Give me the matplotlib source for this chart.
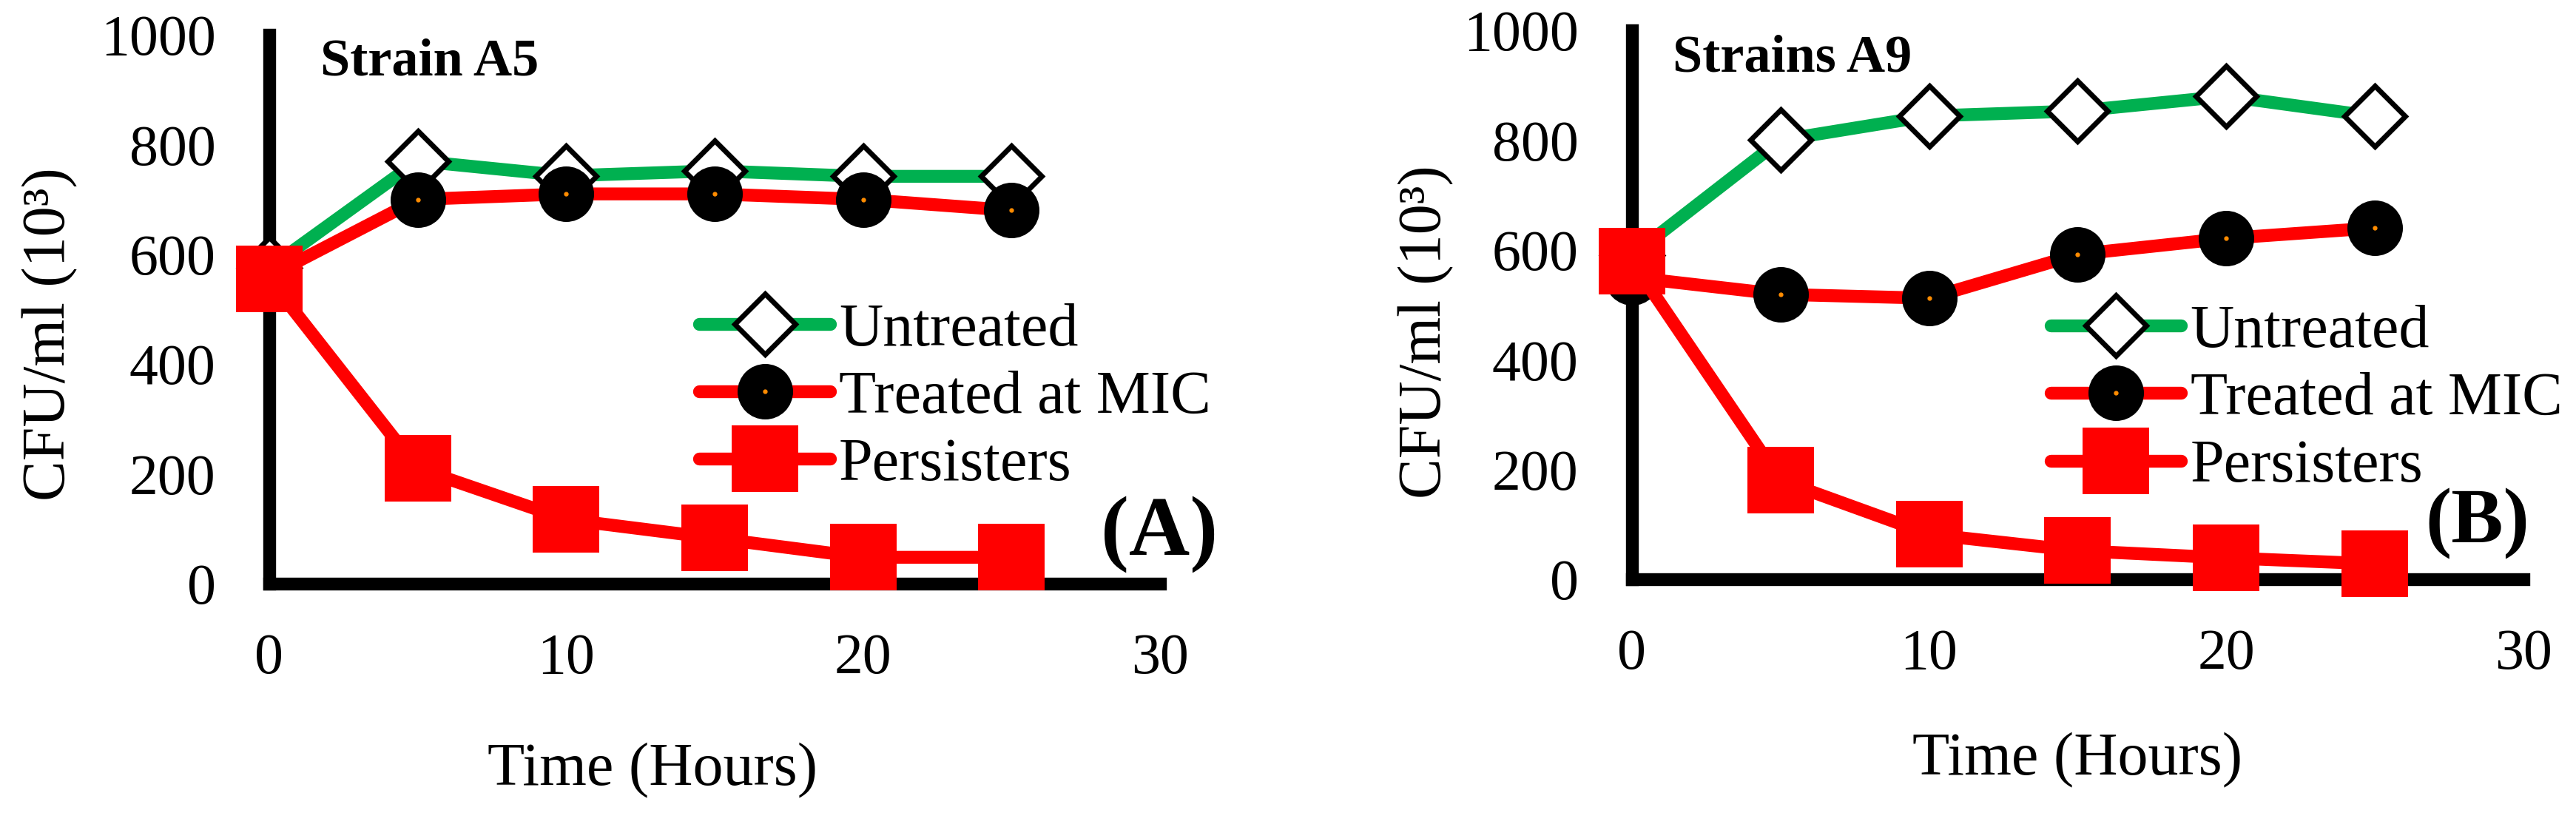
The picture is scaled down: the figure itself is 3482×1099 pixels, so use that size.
import matplotlib
matplotlib.use("Agg")
import matplotlib.pyplot as plt

plt.rcParams['font.family'] = ['Liberation Serif', 'DejaVu Serif']

# data (CFU/ml x 10^3)
hours = [0, 5, 10, 15, 20, 25]
a5_untreated = [575, 770, 743, 752, 742, 742]
a5_treated = [560, 700, 710, 710, 700, 680]
a5_persisters = [555, 210, 117, 83, 48, 48]
a9_untreated = [590, 800, 844, 853, 880, 843]
a9_treated = [550, 519, 512, 592, 621, 640]
a9_persisters = [579, 180, 82, 52, 39, 28]
series_labels = ["Untreated", "Treated at MIC", "Persisters"]
x_ticks = [0, 10, 20, 30]
y_ticks = [0, 200, 400, 600, 800, 1000]

green = "#00b050"
red = "#ff0000"
orange = "#ff8c00"

fig = plt.figure(figsize=(34.82, 10.99), dpi=100)


def panel(rect, untreated, treated, persisters, title, title_xy, tag, tag_xy, tag_size,
          leg_xy, ylab_xy, xlab_xy):
    ax = fig.add_axes(rect)
    l1, = ax.plot(hours, untreated, color=green, lw=12.5, marker='D', ms=42,
                  mfc='white', mec='black', mew=5, zorder=3, clip_on=False,
                  solid_capstyle='round', solid_joinstyle='round')
    l2, = ax.plot(hours, treated, color=red, lw=12.5, marker='o', ms=54,
                  mfc='black', mec='black', mew=0, zorder=4, clip_on=False,
                  solid_capstyle='round', solid_joinstyle='round')
    d2, = ax.plot(hours, treated, ls='none', marker='o', ms=3.5, color=orange,
                  zorder=4.5, clip_on=False)
    l3, = ax.plot(hours, persisters, color=red, lw=12.5, marker='s', ms=65,
                  mfc=red, mew=0, zorder=5, clip_on=False,
                  solid_capstyle='round', solid_joinstyle='round')

    ax.set_xlim(0, 30)
    ax.set_ylim(0, 1000)
    ax.set_xticks(x_ticks)
    ax.set_yticks(y_ticks)
    for s in ['top', 'right']:
        ax.spines[s].set_visible(False)
    for s in ['left', 'bottom']:
        ax.spines[s].set_linewidth(12.5)
        ax.spines[s].set_color('black')
    ax.tick_params(axis='both', length=0, labelsize=56)
    ax.tick_params(axis='x', pad=48)
    ax.tick_params(axis='y', pad=52)

    ax.text(title_xy[0], title_xy[1], title, transform=ax.transAxes,
            fontsize=52, fontweight='bold', va='baseline', ha='left')
    ax.text(tag_xy[0], tag_xy[1], tag, transform=ax.transAxes,
            fontsize=tag_size, fontweight='bold', va='baseline', ha='left')
    ax.text(ylab_xy[0], ylab_xy[1], "CFU/ml (10³)", transform=ax.transAxes,
            fontsize=59, rotation=90, va='center', ha='center')
    ax.text(xlab_xy[0], xlab_xy[1], "Time (Hours)", transform=ax.transAxes,
            fontsize=59, va='center', ha='center')

    ax.legend(handles=[(l1,), (l2, d2), (l3,)], labels=series_labels,
              loc='center left', bbox_to_anchor=leg_xy, frameon=False,
              fontsize=59, borderpad=0, borderaxespad=0, handlelength=2.15,
              handletextpad=0.15, labelspacing=0.19)
    return ax


panel([0.1045, 0.2821, 0.3458, 0.6752], a5_untreated, a5_treated, a5_persisters,
      "Strain A5", (0.057, 0.926), "(A)", (0.934, 0.053), 82,
      (0.483, 0.338), (-0.246, 0.455), (0.43, -0.34))
panel([0.6335, 0.2875, 0.3461, 0.6752], a9_untreated, a9_treated, a9_persisters,
      "Strains A9", (0.046, 0.925), "(B)", (0.89, 0.067), 76,
      (0.470, 0.327), (-0.231, 0.45), (0.50, -0.33))

fig.savefig("out.png", dpi=100)
